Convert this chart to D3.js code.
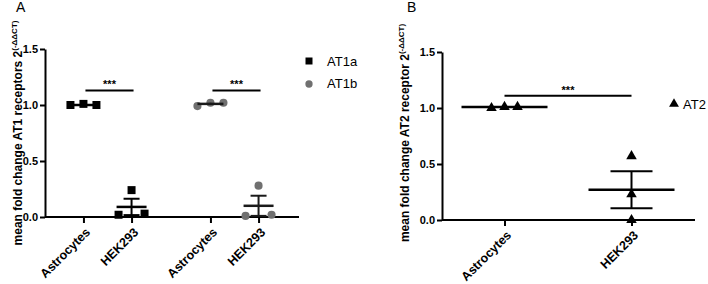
<!DOCTYPE html>
<html>
<head>
<meta charset="utf-8">
<script src="https://cdn.jsdelivr.net/npm/d3@7"></script>
<style>
  body { margin: 0; background: #fff; }
  text { font-family: "Liberation Sans", Arial, sans-serif; }
</style>
</head>
<body>
<div id="chart"></div>
<script>
// data
const cellTypes = ["Astrocytes", "HEK293"];
const receptorsA = ["AT1a", "AT1b"];
const yTicks = [0, 0.5, 1.0, 1.5];

const at1aValues = [[1.00, 1.01, 1.00], [0.02, 0.24, 0.03]];
const at1bValues = [[0.99, 1.02, 1.02], [0.01, 0.28, 0.02]];
const at2Values = [[1.00, 1.01, 1.01], [0.00, 0.23, 0.57]];

const at1aMean = [1.00, 0.09];
const at1aSem = [0.003, 0.073];
const at1bMean = [1.01, 0.10];
const at1bSem = [0.01, 0.09];
const at2Mean = [1.01, 0.27];
const at2Sem = [0.003, 0.165];

const sigA = [1.13, 1.13];
const sigB = 1.11;

const W = 708, H = 284;
const svg = d3.select("#chart").append("svg")
  .attr("width", W).attr("height", H);

const fmt = d3.format(".1f");

function yAxis(g, y) {
  g.call(d3.axisLeft(y).tickValues(yTicks).tickFormat(fmt).tickSize(5).tickSizeOuter(0))
  g.select(".domain").attr("stroke-width", 2)
  g.selectAll(".tick line").attr("stroke-width", 2)
  g.selectAll(".tick text")
    .attr("font-size", 11).attr("font-weight", "bold")
    .attr("fill", "#000").attr("x", -7).attr("dy", "0.35em")
    .attr("font-family", "Liberation Sans, Arial, sans-serif");
}

function xTicks(g, x) {
  g.call(d3.axisBottom(x).tickSize(6).tickSizeOuter(0))
  g.select(".domain").remove();
  g.selectAll(".tick line").attr("stroke-width", 2);
  g.selectAll(".tick text")
    .attr("font-size", 12.5).attr("font-weight", "bold").attr("fill", "#000")
    .attr("font-family", "Liberation Sans, Arial, sans-serif")
    .attr("text-anchor", "end")
    .attr("y", 0).attr("dy", 0)
    .attr("transform", "translate(7,16) rotate(-45)");
}

function yTitle(x, yc, main, sup) {
  const t = svg.append("text")
    .attr("transform", `translate(${x},${yc}) rotate(-90)`)
    .attr("text-anchor", "middle")
    .attr("font-size", 12).attr("font-weight", "bold");
  t.append("tspan").text(main);
  t.append("tspan").text(sup).attr("font-size", 8).attr("dy", -5);
}

// draws scatter + mean + sem for one group
function group(g, cx, y, vals, mean, sem, opts) {
  const offs = opts.offs;
  const sym = d3.symbol().type(opts.symbol).size(opts.size);
  g.selectAll(null).data(vals).enter().append("path")
    .attr("d", sym)
    .attr("transform", (d, i) => `translate(${cx + offs[i]},${y(d)})`)
    .attr("fill", opts.fill);
  const lc = opts.line;
  g.append("line")
    .attr("x1", cx).attr("x2", cx)
    .attr("y1", y(mean - sem)).attr("y2", y(mean + sem))
    .attr("stroke", lc).attr("stroke-width", 2);
  [mean - sem, mean + sem].forEach(v => {
    g.append("line")
      .attr("x1", cx - opts.whisk).attr("x2", cx + opts.whisk)
      .attr("y1", y(v)).attr("y2", y(v))
      .attr("stroke", lc).attr("stroke-width", 2);
  });
  g.append("line")
    .attr("x1", cx - opts.meanW).attr("x2", cx + opts.meanW)
    .attr("y1", y(mean)).attr("y2", y(mean))
    .attr("stroke", lc).attr("stroke-width", 2.5);
}

function sig(x1, x2, yv, y, dy) {
  svg.append("line")
    .attr("x1", x1).attr("x2", x2).attr("y1", y(yv)).attr("y2", y(yv))
    .attr("stroke", "#000").attr("stroke-width", 2);
  svg.append("text").text("***")
    .attr("x", (x1 + x2) / 2).attr("y", y(yv) + dy)
    .attr("text-anchor", "middle").attr("font-size", 11).attr("font-weight", "bold");
}

// ---------- panel A ----------
const yA = d3.scaleLinear().domain([0, 1.5]).range([217, 49]);
const outerA = d3.scaleBand().domain(receptorsA).range([44, 298]);
const innerA = d3.scalePoint().domain(cellTypes).range([0, outerA.bandwidth()]).padding(0.82);

svg.append("text").text("A").attr("x", 16).attr("y", 12).attr("font-size", 14);

svg.append("line").attr("x1", 45).attr("x2", 299).attr("y1", yA(0)).attr("y2", yA(0))
  .attr("stroke", "#000").attr("stroke-width", 2);
receptorsA.forEach(r => {
  svg.append("g").attr("transform", `translate(${outerA(r)},${yA(0)})`).call(xTicks, innerA);
});
svg.append("g").attr("transform", "translate(45,0)").call(yAxis, yA);

const seriesA = [
  { key: "AT1a", vals: at1aValues, mean: at1aMean, sem: at1aSem, symbol: d3.symbolSquare, size: 64, fill: "#000", line: "#000" },
  { key: "AT1b", vals: at1bValues, mean: at1bMean, sem: at1bSem, symbol: d3.symbolCircle, size: 52, fill: "#707070", line: "#1a1a1a" }
];
const plotA = svg.append("g");
seriesA.forEach(s => {
  cellTypes.forEach((c, i) => {
    const cx = outerA(s.key) + innerA(c);
    group(plotA, cx, yA, s.vals[i], s.mean[i], s.sem[i], {
      offs: [-13, 0, 13], symbol: s.symbol, size: s.size, fill: s.fill,
      line: s.line, whisk: i ? 8 : 0, meanW: i ? 15 : 13
    });
  });
});
receptorsA.forEach((r, i) => {
  sig(outerA(r) + innerA("Astrocytes") + 2, outerA(r) + innerA("HEK293") + 2, sigA[i], yA, -2);
});

yTitle(22, 133, "mean fold change AT1 receptors 2", "(-\u0394\u0394CT)");

// legend A
const legA = svg.append("g");
seriesA.forEach((s, i) => {
  legA.append("path").attr("d", d3.symbol().type(s.symbol).size(i ? 42 : 49)())
    .attr("transform", `translate(309,${61 + i * 23})`).attr("fill", s.fill);
  legA.append("text").text(s.key).attr("x", 327).attr("y", 65.5 + i * 22.5).attr("font-size", 13);
});

// ---------- panel B ----------
const yB = d3.scaleLinear().domain([0, 1.5]).range([220, 52]);
const xB = d3.scalePoint().domain(cellTypes).range([441, 695]).padding(0.5);

svg.append("text").text("B").attr("x", 407).attr("y", 12).attr("font-size", 14);

svg.append("line").attr("x1", 442).attr("x2", 695).attr("y1", yB(0)).attr("y2", yB(0))
  .attr("stroke", "#000").attr("stroke-width", 2);
svg.append("g").attr("transform", `translate(0,${yB(0)})`).call(xTicks, xB);
svg.append("g").attr("transform", "translate(442,0)").call(yAxis, yB);

const plotB = svg.append("g");
cellTypes.forEach((c, i) => {
  group(plotB, xB(c), yB, at2Values[i], at2Mean[i], at2Sem[i], {
    offs: i ? [0, 0, 0] : [-13, 0, 13], symbol: d3.symbolTriangle, size: 48,
    fill: "#000", line: "#000", whisk: i ? 21 : 0, meanW: 43
  });
});
sig(xB("Astrocytes"), xB("HEK293"), sigB, yB, -2);

yTitle(409, 133, "mean fold change AT2 receptor 2", "(-\u0394\u0394CT)");

svg.append("path").attr("d", d3.symbol().type(d3.symbolTriangle).size(42)())
  .attr("transform", "translate(674,104)").attr("fill", "#000");
svg.append("text").text("AT2").attr("x", 683).attr("y", 108.5).attr("font-size", 13);
</script>
</body>
</html>
